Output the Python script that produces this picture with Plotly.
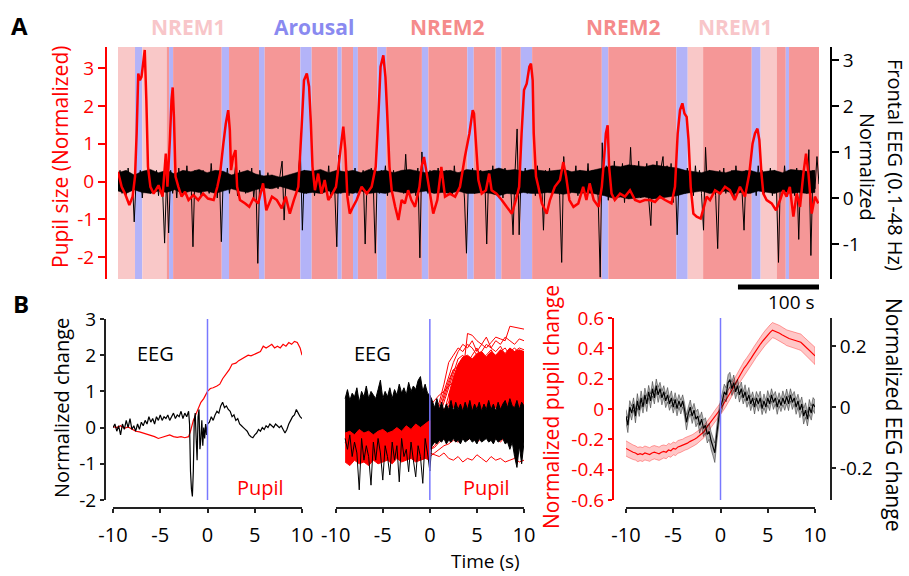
import plotly.graph_objects as go

# ---------------- DATA ----------------
# Panel A: sleep-state bands (seconds)
band_start = [0, 21, 30, 60, 63, 68, 128, 137, 174, 181, 225, 239, 271, 276, 290, 296, 320, 331, 375, 383,
              431, 439, 466, 473, 497, 511, 597, 605, 689, 703, 722, 782, 793, 813, 824, 828]
band_end = [21, 30, 60, 63, 68, 128, 137, 174, 181, 225, 239, 271, 276, 290, 296, 320, 331, 375, 383, 431,
            439, 466, 473, 497, 511, 597, 605, 689, 703, 722, 782, 793, 813, 824, 828, 865]
band_state = ["NREM1", "Arousal", "NREM1", "NREM2", "Arousal", "NREM2", "Arousal", "NREM2", "Arousal", "NREM2",
              "Arousal", "NREM2", "Arousal", "NREM2", "Arousal", "NREM2", "Arousal", "NREM2", "Arousal", "NREM2",
              "Arousal", "NREM2", "Arousal", "NREM2", "Arousal", "NREM2", "Arousal", "NREM2", "Arousal", "NREM1",
              "NREM2", "Arousal", "NREM1", "NREM2", "Arousal", "NREM2"]
state_labels = ["NREM1", "Arousal", "NREM2", "NREM2", "NREM1"]

# Panel A: pupil size (normalized), (time s, value)
pupil_a = [
    (0, 0.26), (4.5, -0.14), (8.6, -0.32), (14, -0.62), (18, -0.40), (21, 0.13), (23, 1.27), (25, 2.86), (27, 2.68),
    (29, 2.77), (31, 3.12), (33, 3.48), (35, 2.15), (37, 0.39), (40, -0.14), (44, -0.32), (50, -0.10), (55, -0.40),
    (59, 0.74), (61, -0.14), (64, 1.10), (66, 2.15), (67.5, 2.49), (69, 1.71), (71, 0.13), (74.5, -0.14), (78.5, -0.40),
    (82.7, -0.27), (87, -0.49), (93, -0.36), (99, -0.49), (105, -0.32), (111, -0.45), (118, -0.49), (122.6, -0.14),
    (126, 0.21), (130, 1.0), (133, 1.53), (136, 1.89), (138, 1.36), (139.5, 0.30), (142, 0.65), (145, 0.83), (147, -0.14),
    (150.5, -0.49), (157, -0.58), (162, -0.67), (167, -0.45), (173, -0.58), (179, -0.05), (183, -0.76), (190, -0.40),
    (196, -0.49), (202, -0.71), (207, -0.40), (212, -0.85), (217, -0.49), (222.5, -0.14), (226.6, 1.45), (229.5, 2.68),
    (233, 2.86), (235.8, 2.51), (238, 1.54), (240, 0.39), (243, -0.23), (247, 0.21), (251, -0.32), (255, 0.04),
    (259.5, -0.49), (264.5, -0.32), (269, -0.14), (272, 0.39), (275, 0.92), (278, 1.45), (280.5, 0.83), (283, -0.40),
    (286, -0.85), (290, -0.67), (294.5, -0.49), (300.6, -0.14), (307, -0.32), (313, -0.14), (318, 0.39), (321.6, 1.89),
    (324, 3.04), (327.4, 3.34), (330, 2.77), (332, 1.89), (335, 0.39), (337.7, -0.23), (342, -0.67), (346, -1.02),
    (350, -0.49), (354, -0.58), (358, -0.23), (362, -0.49), (366.5, -0.67), (372, -0.14), (374.6, 0.39), (377.6, 0.65),
    (381, 0.21), (385, -0.32), (389, -0.85), (394, -0.49), (399, 0.39), (403.5, -0.40), (409.6, -0.32), (416, -0.40),
    (422, -0.14), (428, 0.65), (433.6, 1.27), (437.7, 1.89), (439.3, 1.80), (442, 0.92), (444.7, 0.04), (448.8, -0.32),
    (454, -0.23), (458, 0.21), (461, -0.23), (467, -0.32), (473.5, -0.49), (479.6, -0.67), (486, -0.85), (491, -0.49),
    (495, -0.14), (498, 1.27), (501, 2.42), (504.3, 2.59), (507.6, 3.04), (509.6, 3.12), (511.7, 2.68), (513, 1.27),
    (515.8, 0.13), (518.7, -0.14), (523, -0.58), (529, -0.85), (533, -0.49), (539, -0.14), (545.4, 0.04), (549.5, 0.52),
    (553, 0.13), (557, -0.49), (562, -0.67), (568, -0.58), (574, -0.14), (578, -0.49), (582, -0.05), (587, -0.49),
    (593, -0.67), (597, -0.14), (599.7, 0.57), (602, 1.27), (604.2, 1.49), (606, 0.39), (609, -0.32), (613, -0.49),
    (619.5, -0.32), (625.6, -0.40), (631.8, -0.23), (638, -0.49), (644, -0.54), (650, -0.49), (656.5, -0.49),
    (662.6, -0.54), (668.8, -0.40), (675, -0.49), (683, -0.58), (687.3, -0.14), (690.6, 1.27), (693.5, 1.89),
    (696.4, 2.07), (699, 1.80), (701.7, 1.71), (704, 1.10), (706.7, -0.14), (710, -0.85), (714, -0.93), (719, -0.98),
    (723, -0.67), (726.4, -0.40), (730.5, -0.49), (736.7, -0.23), (743, -0.32), (749, -0.14), (755, -0.23), (761, -0.49),
    (767.5, -0.14), (773.7, -0.40), (779, 0.21), (783, 1.0), (786, 1.27), (789, 1.40), (791.4, 1.10), (794, 0.21),
    (796.3, -0.32), (800.4, -0.49), (806.6, -0.58), (812, -0.76), (817, -0.49), (821, -0.23), (825, -0.40), (829, -0.14),
    (833.4, -0.93), (837.5, -0.32), (841.6, -0.67), (845.7, 0.21), (849, 0.74), (852, 0.21), (856, -0.85), (860, -0.40),
    (864.2, -0.58)]

# Panel A: frontal EEG (normalized), sampled every 2.5 s
eeg_a_dt = 2.5
eeg_a = [
    0.3, 0.6, 0.1, 0.55, 0.05, 0.65, 0.2, 0.5, -0.52, 0.45, 0.15, 0.6, 0.0, 0.5, 0.25, 0.7, 0.1, 0.55, 0.2, 0.6,
    0.05, 0.5, 0.2, -0.98, 0.45, -0.76, 0.6, 0.1, 0.55, 0.0, 0.65, 0.2, 0.5, 0.1, 0.7, 0.15, 0.45, -1.06, 0.6, 0.2,
    0.55, 0.05, 0.6, 0.25, 0.5, 0.1, 0.75, 0.15, 0.5, 0.0, 0.6, -0.95, 0.55, 0.2, 0.65, 0.1, 0.5, 0.25, 0.7, 0.05,
    0.6, 0.2, 0.45, 0.1, 0.55, 0.25, 0.65, 0.0, 0.5, -1.42, 0.6, 0.15, 0.45, 0.3, 0.55, 0.2, 0.5, 0.25, 0.45, 0.2,
    0.5, 0.8, -0.48, 0.45, 0.25, 0.5, 0.3, 0.45, 0.2, 0.55, 1.04, -0.7, 0.6, 0.1, 0.55, 0.2, 0.65, 0.05, 0.5, 0.25,
    0.6, 0.1, 0.55, 0.2, 0.7, 0.0, 0.5, 0.15, -1.06, 0.93, 0.1, 0.55, 0.25, 0.6, 0.05, 0.5, 0.2, 0.65, 0.1, 0.55,
    0.2, 0.6, -1.0, 0.5, 0.15, 0.65, 0.3, -1.2, 0.55, 0.1, 0.6, 0.25, 0.7, 0.05, 0.5, 0.2, 0.6, 0.15, 0.55, 0.3,
    0.5, 0.1, 0.95, 0.15, 0.6, 0.2, 0.5, 0.05, 0.65, -1.3, 1.0, 0.2, 0.55, 0.1, 0.6, 0.25, 0.5, 0.15, 0.65, 0.2,
    0.55, 0.1, 0.6, 0.3, 0.5, 0.05, 0.7, 0.2, 0.55, 0.15, 0.6, 0.0, -1.2, 0.5, 0.2, 0.65, 0.1, 0.55, 0.25, 0.6,
    0.15, 0.5, -1.0, 0.6, 0.2, 0.7, 0.1, 0.55, 0.25, 0.6, 0.0, 0.65, 0.2, 0.5, 0.1, -0.8, 0.6, 1.5, -0.8, 0.55,
    0.2, 0.65, 0.1, 0.6, 0.25, 0.55, 0.05, 0.7, 0.2, 0.5, -0.7, 0.6, 0.15, 0.65, 0.1, 0.55, 0.3, 0.6, 0.05, -1.4,
    0.9, 0.2, 0.6, 0.1, 0.55, 0.25, 0.7, 0.05, 0.6, 0.2, 0.5, 0.15, 0.75, 0.1, 0.6, 0.3, 0.55, 0.0, -1.72, 1.2,
    0.1, 0.7, -0.05, 0.65, 0.15, 0.8, 0.0, 0.6, 0.2, 0.75, -0.1, 0.65, 0.1, 1.1, 0.05, 0.7, 0.15, 0.8, 0.0, 0.6,
    0.2, 0.75, -0.05, -0.6, 0.7, 0.1, 0.8, 0.0, 0.65, 0.9, 0.05, 0.7, 0.15, 0.75, -0.1, 0.6, -0.8, 0.55, 0.2, 0.6,
    0.1, 0.65, 0.25, 0.55, 0.05, 0.7, 0.2, 0.6, 0.1, -0.7, 1.1, 0.15, 0.6, 0.25, 0.55, 0.05, -1.1, 0.6, 0.2, 0.65,
    0.1, 0.55, 0.25, 0.6, 0.0, 0.7, 0.2, 0.5, 0.15, -0.7, 0.6, 0.1, 0.65, 0.25, 0.55, 0.05, 0.7, 0.2, 0.6, 0.1,
    0.55, 0.3, 0.65, 0.05, 0.6, 0.2, -1.4, 0.55, 0.1, 0.7, 0.15, 0.6, 0.25, 0.5, 0.05, 0.65, -0.9, 0.6, 0.2, 0.55,
    0.1, 1.05, -1.25, 0.6, 0.2, 0.9, 0.3]
# Panel A: dense EEG band envelope, every 10 s
eeg_a_env_dt = 10
eeg_a_env_upper = [
    0.55, 0.6, 0.5, 0.58, 0.62, 0.55, 0.6, 0.52, 0.6, 0.57, 0.62, 0.55, 0.6, 0.58, 0.5, 0.55, 0.6, 0.52, 0.48, 0.5,
    0.45, 0.5, 0.55, 0.6, 0.58, 0.62, 0.55, 0.6, 0.57, 0.6, 0.55, 0.62, 0.58, 0.6, 0.55, 0.6, 0.62, 0.58, 0.55, 0.6,
    0.58, 0.6, 0.55, 0.62, 0.6, 0.58, 0.6, 0.65, 0.6, 0.62, 0.58, 0.62, 0.6, 0.58, 0.6, 0.62, 0.57, 0.6, 0.58, 0.62,
    0.65, 0.7, 0.68, 0.72, 0.7, 0.68, 0.72, 0.7, 0.68, 0.65, 0.6, 0.58, 0.55, 0.6, 0.58, 0.55, 0.6, 0.58, 0.6, 0.55,
    0.58, 0.6, 0.55, 0.62, 0.6, 0.58, 0.6]
eeg_a_env_lower = [
    0.15, 0.1, 0.18, 0.12, 0.1, 0.15, 0.12, 0.18, 0.1, 0.15, 0.12, 0.15, 0.1, 0.15, 0.2, 0.15, 0.12, 0.18, 0.22, 0.2,
    0.25, 0.2, 0.15, 0.1, 0.12, 0.1, 0.15, 0.1, 0.12, 0.1, 0.15, 0.1, 0.12, 0.1, 0.15, 0.12, 0.1, 0.12, 0.15, 0.1,
    0.12, 0.1, 0.15, 0.1, 0.1, 0.12, 0.1, 0.05, 0.1, 0.08, 0.12, 0.1, 0.1, 0.12, 0.1, 0.08, 0.12, 0.1, 0.12, 0.08,
    0.05, 0.0, 0.02, -0.02, 0.0, 0.02, -0.02, 0.0, 0.02, 0.05, 0.1, 0.12, 0.15, 0.1, 0.12, 0.15, 0.1, 0.12, 0.1, 0.15,
    0.12, 0.1, 0.15, 0.1, 0.12, 0.1, 0.12]

# Panel B1: single-event example, (time s, value)
b1_pupil = [
    (-10, 0.03), (-9.6, 0.0), (-9.2, 0.05), (-8.8, -0.02), (-8.4, 0.02), (-8, -0.05), (-7.6, -0.1), (-7.2, -0.12),
    (-6.8, -0.15), (-6.4, -0.18), (-6, -0.22), (-5.6, -0.25), (-5.2, -0.3), (-4.8, -0.27), (-4.4, -0.22), (-4, -0.2),
    (-3.6, -0.25), (-3.2, -0.27), (-2.8, -0.25), (-2.4, -0.28), (-2.0, -0.25), (-1.8, -0.1), (-1.5, 0.2), (-1.2, 0.4),
    (-1.0, 0.55), (-0.7, 0.7), (-0.4, 0.8), (-0.2, 0.9), (0, 1.0), (0.3, 1.08), (0.6, 1.1), (1.0, 1.15), (1.3, 1.2),
    (1.6, 1.35), (2.0, 1.5), (2.3, 1.6), (2.6, 1.75), (3.0, 1.78), (3.3, 1.85), (3.6, 1.9), (4.0, 1.97), (4.3, 2.0),
    (4.6, 1.98), (5.0, 2.02), (5.3, 2.05), (5.6, 2.1), (5.9, 2.25), (6.2, 2.2), (6.5, 2.25), (6.8, 2.3), (7.1, 2.2),
    (7.4, 2.25), (7.7, 2.2), (8.0, 2.3), (8.3, 2.25), (8.6, 2.35), (8.9, 2.3), (9.2, 2.38), (9.5, 2.35), (9.8, 2.2),
    (10, 2.0)]
b1_eeg = [
    (-10, 0.0), (-9.8, 0.1), (-9.6, -0.1), (-9.4, 0.05), (-9.2, -0.2), (-9.0, 0.1), (-8.8, -0.05), (-8.6, 0.2),
    (-8.4, 0.0), (-8.2, 0.25), (-8.0, -0.05), (-7.8, 0.05), (-7.6, -0.1), (-7.4, 0.1), (-7.2, -0.05), (-7.0, 0.15),
    (-6.8, 0.05), (-6.6, 0.2), (-6.4, 0.1), (-6.2, 0.3), (-6.0, 0.15), (-5.8, 0.25), (-5.6, 0.1), (-5.4, 0.3),
    (-5.2, 0.2), (-5.0, 0.35), (-4.8, 0.2), (-4.6, 0.3), (-4.4, 0.25), (-4.2, 0.35), (-4.0, 0.2), (-3.8, 0.3),
    (-3.6, 0.4), (-3.4, 0.25), (-3.2, 0.35), (-3.0, 0.3), (-2.8, 0.45), (-2.6, 0.25), (-2.4, 0.4), (-2.2, 0.3),
    (-2.0, 0.45), (-1.9, 0.1), (-1.8, -1.2), (-1.7, -1.7), (-1.6, -1.9), (-1.5, -1.2), (-1.4, 0.2), (-1.3, 0.4),
    (-1.2, -0.3), (-1.1, -0.9), (-1.0, 0.3), (-0.9, 0.5), (-0.8, -0.6), (-0.7, -0.3), (-0.6, 0.2), (-0.5, -0.5),
    (-0.4, 0.0), (-0.3, -0.3), (-0.2, 0.1), (-0.1, -0.2), (0, 0.1), (0.2, 0.15), (0.4, 0.3), (0.6, 0.2), (0.8, 0.35),
    (1.0, 0.45), (1.2, 0.4), (1.4, 0.6), (1.6, 0.7), (1.8, 0.55), (2.0, 0.6), (2.2, 0.5), (2.4, 0.45), (2.6, 0.3),
    (2.8, 0.35), (3.0, 0.2), (3.2, 0.25), (3.4, 0.1), (3.6, 0.05), (3.8, 0.0), (4.0, -0.05), (4.2, -0.1), (4.4, -0.2),
    (4.6, -0.25), (4.8, -0.28), (5.0, -0.2), (5.2, -0.15), (5.4, -0.05), (5.6, -0.1), (5.8, 0.0), (6.0, -0.05),
    (6.2, 0.05), (6.4, 0.0), (6.6, 0.1), (6.8, 0.05), (7.0, 0.0), (7.2, 0.1), (7.4, 0.05), (7.6, 0.0), (7.8, 0.05),
    (8.0, -0.05), (8.2, -0.15), (8.4, -0.05), (8.6, 0.1), (8.8, 0.2), (9.0, 0.3), (9.2, 0.35), (9.4, 0.5), (9.6, 0.4),
    (9.8, 0.3), (10.0, 0.25)]

# Panel B2: all events overlaid
b2_trace_t = [-1.0, 0.0, 0.5, 1.0, 1.5, 2.0, 2.5, 3.0, 3.5, 4.0, 4.5, 5.0, 5.5, 6.0, 6.5, 7.0, 7.5, 8.0, 8.5, 9.0, 9.5, 10.0]
b2_pupil_traces = [
    [-0.3, 0.6, 0.75, 0.9, 1.0, 1.15, 1.25, 1.35, 1.45, 2.6, 2.55, 2.4, 2.3, 2.2, 2.35, 2.5, 2.45, 2.4, 2.8, 2.78, 2.75, 2.72],
    [-0.5, -0.2, 0.2, 0.6, 1.0, 1.4, 1.8, 2.1, 2.3, 2.2, 2.4, 2.1, 2.3, 2.5, 2.2, 2.4, 2.3, 2.5, 2.4, 2.3, 2.45, 2.4],
    [-0.6, -0.4, -0.1, 0.3, 0.7, 1.1, 1.5, 1.9, 2.0, 1.8, 2.0, 2.2, 1.9, 2.0, 2.15, 1.95, 2.1, 2.2, 2.0, 2.1, 2.2, 2.15],
    [-0.3, 0.0, 0.3, 0.5, 0.8, 1.2, 1.6, 1.5, 1.7, 1.9, 1.6, 1.8, 2.0, 1.7, 1.9, 1.8, 1.6, 1.9, 2.0, 1.8, 1.9, 2.0],
    [-0.7, -0.5, -0.3, 0.0, 0.4, 0.9, 1.2, 1.5, 1.3, 1.6, 1.8, 1.5, 1.7, 1.6, 1.8, 1.7, 1.9, 1.6, 1.7, 1.85, 1.7, 1.75],
    [-0.4, -0.3, 0.0, 0.2, 0.5, 0.7, 1.0, 1.3, 1.5, 1.3, 1.4, 1.6, 1.4, 1.5, 1.3, 1.5, 1.6, 1.4, 1.5, 1.6, 1.45, 1.5],
    [-0.6, -0.5, -0.4, -0.2, 0.1, 0.4, 0.8, 1.1, 1.0, 1.2, 1.1, 1.3, 1.2, 1.4, 1.25, 1.3, 1.2, 1.35, 1.3, 1.2, 1.3, 1.25],
    [-0.5, -0.3, -0.2, 0.1, 0.3, 0.6, 0.8, 0.9, 1.1, 0.95, 1.0, 1.15, 1.0, 1.1, 0.9, 1.05, 1.15, 1.0, 1.1, 0.95, 1.05, 1.0],
    [-0.8, -0.6, -0.5, -0.3, -0.1, 0.2, 0.4, 0.6, 0.8, 0.7, 0.9, 0.8, 0.95, 0.85, 0.7, 0.9, 0.8, 0.85, 0.75, 0.9, 0.8, 0.85],
    [-0.4, -0.4, -0.2, -0.1, 0.1, 0.3, 0.5, 0.45, 0.6, 0.7, 0.55, 0.65, 0.5, 0.7, 0.6, 0.5, 0.65, 0.55, 0.6, 0.7, 0.6, 0.65],
    [-0.7, -0.6, -0.55, -0.4, -0.3, -0.1, 0.1, 0.2, 0.35, 0.3, 0.45, 0.4, 0.3, 0.45, 0.35, 0.4, 0.3, 0.45, 0.35, 0.4, 0.3, 0.35],
    [-0.5, -0.45, -0.4, -0.3, -0.3, -0.2, -0.1, 0.0, 0.1, 0.05, 0.2, 0.1, 0.0, 0.15, 0.05, 0.1, 0.2, 0.0, 0.1, 0.05, 0.15, 0.1],
    [-0.9, -0.8, -0.7, -0.6, -0.5, -0.45, -0.35, -0.4, -0.3, -0.35, -0.25, -0.4, -0.3, -0.2, -0.35, -0.3, -0.4, -0.25, -0.3, -0.35, -0.3, -0.25],
    [-0.6, -0.7, -0.75, -0.8, -0.7, -0.85, -0.9, -0.8, -0.95, -0.85, -0.9, -0.75, -0.85, -0.95, -0.8, -0.9, -0.85, -0.95, -0.9, -0.85, -0.95, -0.9],
    [-0.4, -0.1, 0.5, 0.7, 1.2, 1.8, 2.0, 2.2, 2.1, 2.3, 2.2, 2.0, 2.1, 2.3, 2.2, 2.1, 2.25, 2.0, 2.1, 2.2, 2.05, 2.1],
    [-0.6, -0.4, -0.2, 0.4, 0.9, 1.3, 1.6, 1.7, 1.9, 1.75, 1.5, 1.7, 1.55, 1.4, 1.6, 1.5, 1.7, 1.5, 1.3, 1.5, 1.4, 1.35]]
# dense post-event pupil cloud (t = 2 .. 10 every 0.5 s)
b2_pupil_post_upper = [0.9, 1.4, 1.75, 1.95, 2.0, 1.9, 2.05, 2.1, 1.95, 2.1, 2.0, 2.15, 2.05, 2.2, 2.1, 2.15, 2.1]
b2_pupil_post_lower = [0.6, 0.55, 0.55, 0.5, 0.55, 0.5, 0.55, 0.5, 0.55, 0.5, 0.55, 0.5, 0.55, 0.5, 0.55, 0.5, 0.55]
# pre-event pupil cloud envelope (t = -9 .. 0 every 0.5 s)
b2_pupil_pre_upper = [-0.15, -0.1, -0.2, -0.05, -0.15, -0.1, -0.2, -0.1, -0.05, -0.15, -0.1, 0.0, -0.1, 0.05, -0.05, 0.1, 0.0, 0.1, 0.2]
b2_pupil_pre_lower = [-0.95, -1.05, -0.9, -1.0, -0.95, -1.05, -0.9, -1.0, -0.95, -0.9, -1.0, -0.85, -0.95, -0.9, -0.85, -0.95, -0.9, -0.85, -0.9]
# EEG cloud envelope (t = -9 .. 10 every 0.25 s)
b2_eeg_upper = [
    0.8, 1.05, 0.75, 0.95, 0.85, 1.1, 0.7, 1.0, 0.85, 1.15, 0.8, 1.0, 0.9, 0.8, 1.05, 1.31, 0.8, 1.0, 0.85, 1.1,
    0.8, 1.05, 0.9, 1.2, 0.95, 1.1, 0.9, 1.25, 1.0, 1.15, 1.05, 1.3, 1.41, 1.0, 1.2, 0.95, 0.9,
    0.75, 0.55, 0.8, 0.5, 0.7, 0.45, 0.65, 0.5, 0.75, 0.45, 0.7, 0.5, 0.65, 0.45, 0.7, 0.5, 0.75, 0.45, 0.65, 0.5,
    0.7, 0.45, 0.65, 0.5, 0.75, 0.5, 0.65, 0.45, 0.7, 0.5, 0.65, 0.75, 0.55, 0.8, 0.6, 0.55, 0.75, 0.5, 0.7, 0.6]
b2_eeg_lower = [
    -0.4, -0.5, -0.35, -0.45, -0.4, -0.5, -0.35, -0.45, -0.4, -0.5, -0.35, -0.45, -0.4, -0.5, -0.35, -0.45, -0.4, -0.5,
    -0.35, -0.45, -0.4, -0.5, -0.35, -0.45, -0.4, -0.5, -0.35, -0.45, -0.4, -0.5, -0.35, -0.45, -0.5, -0.6, -0.5, -0.7, -0.6,
    -0.5, -0.4, -0.45, -0.35, -0.4, -0.3, -0.45, -0.35, -0.4, -0.3, -0.4, -0.35, -0.45, -0.3, -0.4, -0.35, -0.3, -0.4,
    -0.35, -0.45, -0.3, -0.4, -0.35, -0.3, -0.4, -0.35, -0.45, -0.3, -0.4, -0.35, -0.3, -0.45, -0.4, -0.6, -0.4, -0.8,
    -1.1, -0.5, -1.0, -0.4]
# EEG downward deflections before the event (t = -9 .. 0.5 every 0.25 s)
b2_eeg_spikes = [
    -0.3, -0.6, -0.2, -0.8, -0.4, -0.7, -1.72, -0.3, -0.9, -0.5, -0.8, -1.59, -0.4, -0.9, -0.3, -0.7, -1.45, -0.5, -0.8,
    -1.31, -0.4, -0.9, -0.5, -1.5, -0.3, -0.8, -0.6, -1.22, -0.4, -0.9, -1.36, -0.5, -0.8, -1.54, -0.3, -0.7, -1.2, -0.3, -0.2]

# Panel B3: averages (t = -10 .. 10)
b3_pupil_mean = [
    -0.26, -0.27, -0.28, -0.285, -0.29, -0.30, -0.295, -0.30, -0.29, -0.295, -0.30, -0.29, -0.285, -0.29, -0.295, -0.285,
    -0.28, -0.285, -0.27, -0.275, -0.26, -0.265, -0.25, -0.245, -0.24, -0.23, -0.225, -0.215, -0.21, -0.20, -0.19, -0.175,
    -0.165, -0.15, -0.125, -0.105, -0.085, -0.06, -0.04, -0.02, 0.0, 0.025, 0.05, 0.075, 0.10, 0.13, 0.16, 0.19, 0.22,
    0.245, 0.27, 0.29, 0.31, 0.335, 0.36, 0.385, 0.41, 0.43, 0.45, 0.47, 0.49, 0.505, 0.52, 0.515, 0.51, 0.50, 0.49,
    0.48, 0.47, 0.465, 0.46, 0.455, 0.45, 0.445, 0.44, 0.425, 0.41, 0.395, 0.38, 0.365, 0.35]
b3_pupil_sem = [
    0.050, 0.049, 0.048, 0.048, 0.047, 0.047, 0.046, 0.046, 0.046, 0.045, 0.045, 0.045, 0.044, 0.044, 0.044, 0.044,
    0.043, 0.043, 0.043, 0.043, 0.042, 0.042, 0.042, 0.042, 0.041, 0.041, 0.041, 0.040, 0.040, 0.040, 0.040, 0.040,
    0.039, 0.039, 0.039, 0.039, 0.039, 0.039, 0.039, 0.039, 0.040, 0.040, 0.041, 0.041, 0.042, 0.042, 0.043, 0.043,
    0.044, 0.044, 0.045, 0.045, 0.046, 0.046, 0.047, 0.047, 0.048, 0.048, 0.049, 0.049, 0.050, 0.050, 0.050, 0.050,
    0.050, 0.051, 0.051, 0.051, 0.052, 0.052, 0.052, 0.053, 0.053, 0.053, 0.054, 0.054, 0.055, 0.055, 0.056, 0.056, 0.057]
b3_eeg_mean = [
    -0.03, -0.06, 0.0, -0.02, 0.01, -0.03, 0.02, -0.01, 0.03, 0.0, 0.04, 0.01, 0.05, 0.02, 0.06, 0.03, 0.07, 0.04, 0.06,
    0.03, 0.05, 0.02, 0.04, 0.01, 0.03, 0.0, 0.025, -0.005, 0.02, 0.0, 0.02, -0.01, -0.05, -0.02, 0.0, -0.03, -0.01, -0.04,
    -0.03, -0.06, -0.04, -0.07, -0.06, -0.09, -0.08, -0.11, -0.13, -0.15, -0.09, -0.04, 0.0, 0.02, 0.05, 0.04, 0.08, 0.09,
    0.06, 0.08, 0.05, 0.07, 0.04, 0.06, 0.03, 0.05, 0.02, 0.04, 0.01, 0.03, 0.0, 0.03, 0.01, 0.03, -0.005, 0.02, 0.0,
    0.03, 0.01, 0.04, 0.015, 0.03, 0.0, 0.025, 0.005, 0.03, 0.01, 0.035, 0.01, 0.04, 0.015, 0.03, 0.0, 0.02, -0.01, 0.01,
    -0.03, -0.01, -0.04, 0.0, -0.02, 0.01, 0.0]
b3_eeg_sem = [
    0.022, 0.024, 0.021, 0.023, 0.020, 0.022, 0.024, 0.021, 0.023, 0.020, 0.022, 0.025, 0.021, 0.023, 0.024, 0.020,
    0.022, 0.025, 0.021, 0.023, 0.020, 0.022, 0.024, 0.021, 0.023, 0.020, 0.022, 0.024, 0.021, 0.023, 0.020, 0.022,
    0.025, 0.021, 0.023, 0.024, 0.022, 0.025, 0.023, 0.026, 0.024, 0.027, 0.025, 0.028, 0.026, 0.029, 0.030, 0.032,
    0.028, 0.026, 0.024, 0.027, 0.025, 0.023, 0.026, 0.024, 0.022, 0.025, 0.023, 0.021, 0.024, 0.022, 0.020, 0.023,
    0.021, 0.024, 0.022, 0.020, 0.023, 0.021, 0.024, 0.022, 0.020, 0.023, 0.021, 0.024, 0.022, 0.020, 0.023, 0.021,
    0.024, 0.022, 0.020, 0.023, 0.021, 0.024, 0.022, 0.020, 0.023, 0.021, 0.024, 0.022, 0.025, 0.023, 0.026, 0.024,
    0.022, 0.025, 0.023, 0.021, 0.022]

x_ticks_b = [-10, -5, 0, 5, 10]
y_ticks_a_pupil = [-2, -1, 0, 1, 2, 3]
y_ticks_a_eeg = [-1, 0, 1, 2, 3]
y_ticks_b1 = [-2, -1, 0, 1, 2, 3]
y_ticks_b3_pupil = [-0.6, -0.4, -0.2, 0, 0.2, 0.4, 0.6]
y_ticks_b3_eeg = [-0.2, 0, 0.2]
scale_bar_seconds = 100

# ---------------- STYLE / LAYOUT HELPERS ----------------
W, H = 909, 576
FONT = "Open Sans"
RED = "#ff0000"
BLUE = "#7878ff"
AXC = "#222222"
state_fill = {"NREM1": "#f9c8c8", "NREM2": "#f59797", "Arousal": "#b3b3f8"}
state_text = {"NREM1": "#f8c6c9", "NREM2": "#f58b8b", "Arousal": "#8a8af0"}


def px(x):
    return x / W


def py(y):
    return 1 - y / H


def lab(v):
    return ("%g" % v).replace("\u2212", "-")


fig = go.Figure()

# ---- Panel A traces ----
env_a_t = [i * eeg_a_env_dt for i in range(len(eeg_a_env_upper))]
fig.add_trace(go.Scatter(x=env_a_t + env_a_t[::-1], y=eeg_a_env_upper + eeg_a_env_lower[::-1], mode="lines",
                         fill="toself", fillcolor="black", line=dict(color="black", width=0.5),
                         xaxis="x", yaxis="y", hoverinfo="skip"))
eeg_a_t = [i * eeg_a_dt for i in range(len(eeg_a))]
fig.add_trace(go.Scatter(x=eeg_a_t, y=eeg_a, mode="lines", line=dict(color="black", width=1, simplify=False),
                         xaxis="x", yaxis="y", hoverinfo="skip"))
fig.add_trace(go.Scatter(x=[p[0] for p in pupil_a], y=[p[1] for p in pupil_a], mode="lines",
                         line=dict(color=RED, width=2.5, simplify=False), xaxis="x", yaxis="y2", hoverinfo="skip"))

# ---- Panel B1 ----
fig.add_trace(go.Scatter(x=[p[0] for p in b1_pupil], y=[p[1] for p in b1_pupil], mode="lines",
                         line=dict(color=RED, width=1.2), xaxis="x2", yaxis="y3", hoverinfo="skip"))
fig.add_trace(go.Scatter(x=[p[0] for p in b1_eeg], y=[p[1] for p in b1_eeg], mode="lines",
                         line=dict(color="black", width=1.2, simplify=False), xaxis="x2", yaxis="y3", hoverinfo="skip"))

# ---- Panel B2 ----
post_t = [2 + 0.5 * i for i in range(len(b2_pupil_post_upper))]
fig.add_trace(go.Scatter(x=post_t + post_t[::-1], y=b2_pupil_post_upper + b2_pupil_post_lower[::-1], mode="lines",
                         fill="toself", fillcolor=RED, line=dict(color=RED, width=1),
                         xaxis="x3", yaxis="y4", hoverinfo="skip"))
for tr in b2_pupil_traces:
    fig.add_trace(go.Scatter(x=b2_trace_t, y=tr, mode="lines", line=dict(color=RED, width=1),
                             xaxis="x3", yaxis="y4", hoverinfo="skip"))
env_t = [-9 + 0.25 * i for i in range(len(b2_eeg_upper))]
fig.add_trace(go.Scatter(x=env_t + env_t[::-1], y=b2_eeg_upper + b2_eeg_lower[::-1], mode="lines",
                         fill="toself", fillcolor="black", line=dict(color="black", width=1, simplify=False),
                         xaxis="x3", yaxis="y4", hoverinfo="skip"))
pre_t = [-9 + 0.5 * i for i in range(len(b2_pupil_pre_upper))]
fig.add_trace(go.Scatter(x=pre_t + pre_t[::-1], y=b2_pupil_pre_upper + b2_pupil_pre_lower[::-1], mode="lines",
                         fill="toself", fillcolor=RED, line=dict(color=RED, width=1),
                         xaxis="x3", yaxis="y4", hoverinfo="skip"))
spk_t = [-9 + 0.25 * i for i in range(len(b2_eeg_spikes))]
fig.add_trace(go.Scatter(x=spk_t, y=b2_eeg_spikes, mode="lines", line=dict(color="black", width=1, simplify=False),
                         xaxis="x3", yaxis="y4", hoverinfo="skip"))

# ---- Panel B3 ----
pt = [-10 + 0.25 * i for i in range(len(b3_pupil_mean))]
up = [m + s for m, s in zip(b3_pupil_mean, b3_pupil_sem)]
lo = [m - s for m, s in zip(b3_pupil_mean, b3_pupil_sem)]
fig.add_trace(go.Scatter(x=pt + pt[::-1], y=up + lo[::-1], mode="lines", fill="toself",
                         fillcolor="rgba(255,0,0,0.22)", line=dict(color="rgba(255,0,0,0.35)", width=1),
                         xaxis="x4", yaxis="y5", hoverinfo="skip"))
fig.add_trace(go.Scatter(x=pt, y=b3_pupil_mean, mode="lines", line=dict(color=RED, width=1.2),
                         xaxis="x4", yaxis="y5", hoverinfo="skip"))
et = [-10 + 0.2 * i for i in range(len(b3_eeg_mean))]
eu = [m + s for m, s in zip(b3_eeg_mean, b3_eeg_sem)]
el = [m - s for m, s in zip(b3_eeg_mean, b3_eeg_sem)]
fig.add_trace(go.Scatter(x=et + et[::-1], y=eu + el[::-1], mode="lines", fill="toself",
                         fillcolor="rgba(0,0,0,0.3)", line=dict(color="rgba(0,0,0,0.4)", width=1, simplify=False),
                         xaxis="x4", yaxis="y6", hoverinfo="skip"))
fig.add_trace(go.Scatter(x=et, y=b3_eeg_mean, mode="lines", line=dict(color="black", width=1.2, simplify=False),
                         xaxis="x4", yaxis="y6", hoverinfo="skip"))

# ---------------- AXES ----------------


def yax(domain, rng, ticks, pos, side="left", color=AXC, ticklen=4, size=19, **kw):
    d = dict(domain=domain, range=rng, tickvals=ticks, ticktext=[lab(v) for v in ticks],
             anchor="free", position=pos, side=side, ticks="outside", ticklen=ticklen, tickwidth=2,
             tickcolor=color, showline=True, linewidth=2, linecolor=color, showgrid=False,
             zeroline=False, tickfont=dict(family=FONT, size=size, color=color if color != AXC else "black"),
             fixedrange=True, automargin=False)
    d.update(kw)
    return d


def xax(domain, pos):
    return dict(domain=domain, range=[-10, 10], tickvals=x_ticks_b, ticktext=[lab(v) for v in x_ticks_b],
                anchor="free", position=pos, ticks="outside", ticklen=4, tickwidth=2, tickcolor=AXC,
                showline=True, linewidth=2, linecolor=AXC, showgrid=False, zeroline=False,
                ticklabelstandoff=5,
                tickfont=dict(family=FONT, size=20, color="black"), fixedrange=True, automargin=False)


A_dom = [py(279), py(47)]
B_dom = [py(500), py(319)]
xb_pos = py(508)

fig.update_layout(
    width=W, height=H, margin=dict(l=0, r=0, t=0, b=0, pad=0, autoexpand=False), paper_bgcolor="white",
    plot_bgcolor="rgba(0,0,0,0)", showlegend=False, hovermode=False,
    xaxis=dict(domain=[px(118), px(819)], range=[0, 865], visible=False, anchor="y", fixedrange=True),
    yaxis=yax(A_dom, [-1.76, 3.28], y_ticks_a_eeg, px(831), side="right", color="black", ticklen=7),
    yaxis2=yax(A_dom, [-2.58, 3.56], y_ticks_a_pupil, px(106), side="left", color=RED, ticklen=7, overlaying="y"),
    xaxis2=xax([px(113), px(302)], xb_pos),
    yaxis3=yax(B_dom, [-2, 3], y_ticks_b1, px(105)),
    xaxis3=xax([px(335.7), px(524)], xb_pos),
    yaxis4=dict(domain=B_dom, range=[-2, 3], visible=False, anchor="x3", fixedrange=True),
    xaxis4=xax([px(626), px(815)], xb_pos),
    yaxis5=yax([py(500), py(318)], [-0.6, 0.6], y_ticks_b3_pupil, px(613), color=RED),
    yaxis6=yax([py(500), py(318)], [-0.305, 0.292], y_ticks_b3_eeg, px(831), side="right", overlaying="y5"),
)

# ---------------- SHAPES ----------------
shapes = []
for s, e, st in zip(band_start, band_end, band_state):
    shapes.append(dict(type="rect", xref="x", yref="paper", x0=s, x1=e, y0=A_dom[0], y1=A_dom[1],
                       fillcolor=state_fill[st], line=dict(width=0), layer="below"))
shapes.append(dict(type="line", xref="x", yref="paper", x0=865 - scale_bar_seconds, x1=865,
                   y0=py(287), y1=py(287), line=dict(color="black", width=5)))
for xr, yr, y0, y1 in [("x2", "y3", -2, 3), ("x3", "y4", -2, 3), ("x4", "y5", -0.6, 0.6)]:
    shapes.append(dict(type="line", xref=xr, yref=yr, x0=0, x1=0, y0=y0, y1=y1,
                       line=dict(color=BLUE, width=1.5)))
fig.update_layout(shapes=shapes)

# ---------------- TEXT ----------------
ann = []


def text(t, x, y, size=17, color="black", angle=0, bold=False):
    ann.append(dict(text=("<b>%s</b>" % t) if bold else t, x=px(x), y=py(y), xref="paper", yref="paper",
                    showarrow=False, xanchor="center", yanchor="middle", textangle=angle,
                    font=dict(family=FONT, size=size, color=color)))


text("A", 19, 25, size=24, bold=True)
text("B", 21, 303, size=24, bold=True)
for lbl, xc in zip(state_labels, [188, 314, 447, 623, 735]):
    text(lbl, xc, 27, size=21, color=state_text[lbl], bold=True)
text("Pupil size (Normalized)", 60, 157, size=21, color=RED, angle=-90)
text("Frontal EEG (0.1-48 Hz)", 895, 165, size=20, angle=90)
text("Normalized", 868, 167, size=20, angle=90)
text("100 s", 791, 302, size=19)
text("Normalized change", 61, 408, size=20, angle=-90)
text("EEG", 155, 353, size=20)
text("Pupil", 260, 487, size=20, color=RED)
text("EEG", 372, 353, size=20)
text("Pupil", 486, 487, size=20, color=RED)
text("Time (s)", 485, 561, size=19)
text("Normalized pupil change", 551, 407, size=21, color=RED, angle=-90)
text("Normalized EEG change", 894, 414, size=21, angle=90)
fig.update_layout(annotations=ann)

fig.write_html("out.html")
